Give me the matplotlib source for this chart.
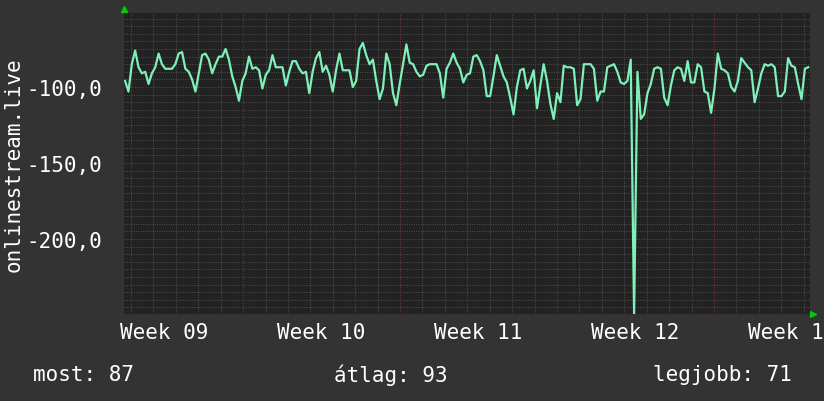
import numpy as np
import matplotlib
matplotlib.use('Agg')
import matplotlib.pyplot as plt

# ping values, one sample every ~3.5 hours
week09 = [-96, -103, -85, -76, -87, -91, -90, -98, -91, -87,
          -78, -85, -88, -88, -88, -85, -78, -77, -88, -90,
          -95, -103, -91, -79, -78, -82, -91, -85, -80, -80,
          -75, -82, -93, -100, -109, -96, -91, -80, -88, -87]
week10 = [-89, -101, -92, -89, -79, -87, -87, -87, -99, -90,
          -83, -83, -88, -91, -90, -104, -90, -81, -77, -90,
          -86, -92, -103, -89, -78, -89, -89, -89, -100, -96,
          -75, -71, -79, -85, -82, -96, -108, -101, -78, -85]
week11 = [-104, -112, -98, -85, -72, -84, -85, -90, -93, -92,
          -86, -85, -85, -85, -91, -107, -88, -84, -78, -84,
          -88, -97, -92, -91, -80, -79, -83, -89, -106, -106,
          -93, -79, -86, -93, -97, -107, -118, -100, -89, -88]
week12 = [-101, -96, -89, -114, -99, -85, -96, -111, -121, -104,
          -110, -86, -87, -87, -88, -112, -108, -85, -85, -85,
          -88, -109, -103, -103, -87, -86, -85, -90, -97, -98,
          -96, -82, -250, -90, -121, -118, -104, -98, -88, -87]
week13 = [-88, -107, -112, -99, -89, -87, -88, -96, -83, -97,
          -97, -85, -87, -103, -104, -117, -101, -78, -88, -89,
          -91, -100, -103, -96, -81, -84, -87, -89, -110, -101,
          -91, -85, -86, -85, -87, -106, -106, -103, -81, -86,
          -87, -98, -108, -88, -87]

week_labels = ['Week 09', 'Week 10', 'Week 11', 'Week 12', 'Week 13']
stats = ['most: 87', 'átlag: 93', 'legjobb: 71']

values = np.array(week09 + week10 + week11 + week12 + week13, dtype=float)
# days relative to the start of week 10
days = np.linspace(-5.26, 25.2, len(values))

W, H = 824, 402
fig = plt.figure(figsize=(W / 100, H / 100), dpi=100, facecolor='#333333')
ax = fig.add_axes([124 / W, (H - 315) / H, (810 - 124) / W, (315 - 14) / H])
ax.set_facecolor('#222222')

mono = 'DejaVu Sans Mono'
dot = (0, (1, 1.4))

# grid: minor every day / 5 units, major (red) every week / 50 units
for d in np.arange(-5, 26):
    if d % 7 == 0:
        continue
    ax.axvline(d, color='#4f4f4f', lw=0.7, ls=dot, zorder=1)
for v in np.arange(-245, -50, 5):
    if v % 50 == 0:
        continue
    ax.axhline(v, color='#4f4f4f', lw=0.7, ls=dot, zorder=1)
for d in [0, 7, 14, 21]:
    ax.axvline(d, color='#7a3232', lw=0.8, ls=dot, zorder=1)
for v in [-100, -150, -200]:
    ax.axhline(v, color='#7a3232', lw=0.8, ls=dot, zorder=1)

ax.plot(days, values, color='#7ef0b8', lw=1.6, zorder=3)

ax.set_xlim(-5.31, 25.28)
ax.set_ylim(-249.4, -51.3)

ax.set_yticks([-100, -150, -200])
ax.set_yticklabels(['-100,0', '-150,0', '-200,0'])
ax.set_xticks([-3.5 + 7 * i for i in range(len(week_labels))])
ax.set_xticklabels(week_labels)
ax.tick_params(length=0, colors='white', labelsize=15, pad=16)
ax.tick_params(axis='x', pad=6)
for lab in ax.get_xticklabels() + ax.get_yticklabels():
    lab.set_family(mono)
    lab.set_clip_on(False)
for s in ax.spines.values():
    s.set_visible(False)

ax.set_ylabel('onlinestream.live', family=mono, fontsize=15, color='white')
ax.yaxis.set_label_coords(-100 / 686, 0.5)

# green axis arrows
ax.plot([0], [1.012], marker='^', color='#00cc00', ms=5, transform=ax.transAxes, clip_on=False)
ax.plot([1.004], [0], marker='>', color='#00cc00', ms=5, transform=ax.transAxes, clip_on=False)

fig.text(33 / W, 1 - 375 / H, stats[0], family=mono, fontsize=15, color='white', va='center')
fig.text(334 / W, 1 - 375 / H, stats[1], family=mono, fontsize=15, color='white', va='center')
fig.text(792 / W, 1 - 375 / H, stats[2], family=mono, fontsize=15, color='white', va='center', ha='right')

fig.savefig('out.png', dpi=100, facecolor=fig.get_facecolor())
